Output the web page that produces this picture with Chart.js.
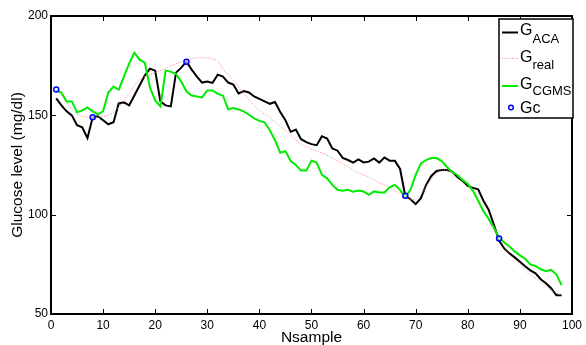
<!DOCTYPE html>
<html>
<head>
<meta charset="utf-8">
<script src="https://cdn.jsdelivr.net/npm/chart.js@4/dist/chart.umd.min.js"></script>
<style>
  body { margin: 0; background: #fff; }
  #wrap { width: 586px; height: 345px; position: relative; }
</style>
</head>
<body>
<div id="wrap"><canvas id="glucoseChart"></canvas></div>
<script>
// sample index (x axis)
var nsample = Array.from({length: 98}, (_, i) => i + 1);

var gACA = [158.5,155,152,150,145,144,138.5,149,149.5,147.5,
  145.5,146.5,156,156.5,155,160,165,170,173.5,172.5,
  157,155,154.5,171.5,174,177,173,169.5,166.5,167,
  166.3,170.5,169.5,166.5,165.5,161,162.2,161.5,159.5,158.3,
  157,155.8,156.7,151.7,147.5,141.7,142.8,138,136.5,135.5,
  135,139.5,138.3,133.3,132.2,128.5,127.5,126.2,127.8,126.3,
  126.7,128.3,126.2,128.8,127.2,127.2,123,109.5,107.8,105.3,
  108.3,115,119.5,122,122.5,122.5,121.7,119,117,114.5,
  113.5,112.8,107,102.5,95,87,83,80.5,78.5,76.3,
  74,72,70.5,67.5,65.5,63,59.5,59.5];

var gReal = [163,160,156.5,153,150.5,149.5,149,149,149,149.5,
  150,151.5,154,157,161,165,168,169.5,170.5,171.5,
  172.5,173.5,175,176,177,177.5,178.5,179,179,179,
  178.5,177.5,173,170.5,167.5,164.5,161,158,155,152.5,
  150.5,149,146.7,144.5,142.5,140,137.5,135.5,134,133,
  132,131,130,128.5,127,125.5,124,122.5,121,120,
  119,117.5,116,115,113.5,112,111,109.5,107.5,107.5,
  110,114,118,121,122.5,122.5,121.5,119.5,117.5,116,
  112,108,102,97,92,88,84,80,77.5,75,
  72,70,68,66,64,62,60.5,59.5];

var gCGMS = [162.5,161.5,157,157,151.5,152.5,154,152,150.5,152,
  161.5,164.5,163,169.5,176,181.5,178,176.5,164,157.5,
  154.5,172.5,172,170.8,167,162,160,159.5,159,162.5,
  162.5,160.8,160,153,153.7,153,152,150.3,148.5,147.2,
  146.5,142.5,137.5,131.2,132,127,125,122.2,122.2,127.2,
  126.2,120,118.3,115,112.5,112,112.5,111.5,112.2,111.7,
  110,111.7,111.2,111.2,113.8,115,112.5,108.8,112.5,120,
  125.8,127.5,128.5,128.5,127,124,121.5,120,117.5,115.5,
  112,107,101.7,98,93.5,88.5,86,84,81.5,79.5,
  77.8,75,74.2,72.5,71.5,72.2,70,64.5];

var gcSample = [1, 8, 26, 68, 86];
var gcValue = [163, 149, 177, 109.5, 88];

var xTicks = [0,10,20,30,40,50,60,70,80,90,100];
var yTicks = [50,100,150,200];

var FONT = "'Liberation Sans', Arial, Helvetica, sans-serif";
var PINK = 'rgb(255,128,128)';
var GREEN = 'rgb(0,235,0)';

function toPoints(xs, ys) {
  return xs.map((x, i) => ({x: x, y: ys[i]}));
}

// box round the plot, inward ticks and the legend with subscripts
var framePlugin = {
  id: 'frame',
  afterDraw(chart) {
    var ctx = chart.ctx;
    var a = chart.chartArea;
    var xs = chart.scales.x, ys = chart.scales.y;
    ctx.save();
    ctx.strokeStyle = '#000';
    ctx.lineWidth = 1;
    ctx.beginPath();
    xTicks.forEach(v => {
      var px = Math.round(xs.getPixelForValue(v)) + 0.5;
      ctx.moveTo(px, a.bottom); ctx.lineTo(px, a.bottom - 5);
      ctx.moveTo(px, a.top); ctx.lineTo(px, a.top + 5);
    });
    yTicks.forEach(v => {
      var py = Math.round(ys.getPixelForValue(v)) + 0.5;
      ctx.moveTo(a.left, py); ctx.lineTo(a.left + 5, py);
      ctx.moveTo(a.right, py); ctx.lineTo(a.right - 5, py);
    });
    ctx.stroke();
    ctx.lineWidth = 2;
    ctx.strokeRect(a.left, a.top, a.right - a.left, a.bottom - a.top);

    // legend
    var lx = 499, ly = 19, lw = 74, lh = 99;
    ctx.fillStyle = '#fff';
    ctx.fillRect(lx, ly, lw, lh);
    ctx.lineWidth = 1.5;
    ctx.strokeStyle = '#000';
    ctx.strokeRect(lx, ly, lw, lh);

    var entries = [
      {sub: 'ACA', ly: 32.5, base: 35, sb: 42.5, color: '#000', w: 2, dash: []},
      {sub: 'real', ly: 58.5, base: 61.5, sb: 68.5, color: PINK, w: 1, dash: [1, 1.5]},
      {sub: 'CGMS', ly: 86, base: 88.5, sb: 95, color: GREEN, w: 2, dash: []}
    ];
    entries.forEach(e => {
      ctx.beginPath();
      ctx.setLineDash(e.dash);
      ctx.strokeStyle = e.color;
      ctx.lineWidth = e.w;
      ctx.moveTo(502, e.ly); ctx.lineTo(518, e.ly);
      ctx.stroke();
      ctx.setLineDash([]);
      ctx.fillStyle = '#000';
      ctx.textBaseline = 'alphabetic';
      ctx.textAlign = 'left';
      ctx.font = '16px ' + FONT;
      ctx.fillText('G', 520, e.base);
      ctx.font = '13px ' + FONT;
      ctx.fillText(e.sub, 532.5, e.sb);
    });
    ctx.beginPath();
    ctx.strokeStyle = '#0000ff';
    ctx.lineWidth = 1.5;
    ctx.arc(511, 107.5, 2.3, 0, Math.PI * 2);
    ctx.stroke();
    ctx.fillStyle = '#000';
    ctx.font = '16px ' + FONT;
    ctx.fillText('Gc', 520, 113);
    ctx.restore();
  }
};

var ctx = document.getElementById('glucoseChart').getContext('2d');
var glucoseChart = new Chart(ctx, {
  type: 'line',
  data: {
    datasets: [{
      label: 'Gc',
      data: toPoints(gcSample, gcValue),
      showLine: false,
      pointRadius: 2.5,
      pointBorderWidth: 1.5,
      pointBorderColor: '#0000ff',
      pointBackgroundColor: 'rgba(255,255,255,0.6)',
      order: 0
    }, {
      label: 'G_CGMS',
      data: toPoints(nsample, gCGMS),
      borderColor: GREEN,
      borderWidth: 2,
      pointRadius: 0,
      order: 1
    }, {
      label: 'G_real',
      data: toPoints(nsample, gReal),
      borderColor: PINK,
      borderWidth: 1,
      borderDash: [1, 1.5],
      pointRadius: 0,
      order: 2
    }, {
      label: 'G_ACA',
      data: toPoints(nsample, gACA),
      borderColor: '#000',
      borderWidth: 2,
      pointRadius: 0,
      order: 3
    }]
  },
  options: {
    responsive: true,
    maintainAspectRatio: false,
    animation: false,
    layout: { padding: { top: 16, right: 10, left: 0, bottom: 0 } },
    plugins: {
      legend: { display: false },
      tooltip: { enabled: false }
    },
    scales: {
      x: {
        type: 'linear',
        min: 0,
        max: 100,
        afterFit: function(s) { s.height = 31; },
        afterBuildTicks: function(s) { s.ticks = xTicks.map(v => ({value: v})); },
        grid: { display: false, drawTicks: false },
        border: { display: false },
        ticks: { padding: 4, color: '#000', font: { family: FONT, size: 12 }, maxRotation: 0 },
        title: {
          display: true,
          text: 'Nsample',
          color: '#000',
          font: { family: FONT, size: 15.5, lineHeight: 1 },
          padding: { top: 0, bottom: 0 }
        }
      },
      y: {
        min: 50,
        max: 200,
        afterFit: function(s) { s.width = 51; },
        afterBuildTicks: function(s) { s.ticks = yTicks.map(v => ({value: v})); },
        grid: { display: false, drawTicks: false },
        border: { display: false },
        ticks: { padding: 3, color: '#000', font: { family: FONT, size: 12 } },
        title: {
          display: true,
          text: 'Glucose level (mg/dl)',
          color: '#000',
          font: { family: FONT, size: 15.5, lineHeight: 1.2 },
          padding: { top: 8, bottom: 0 }
        }
      }
    }
  },
  plugins: [framePlugin]
});
</script>
</body>
</html>
